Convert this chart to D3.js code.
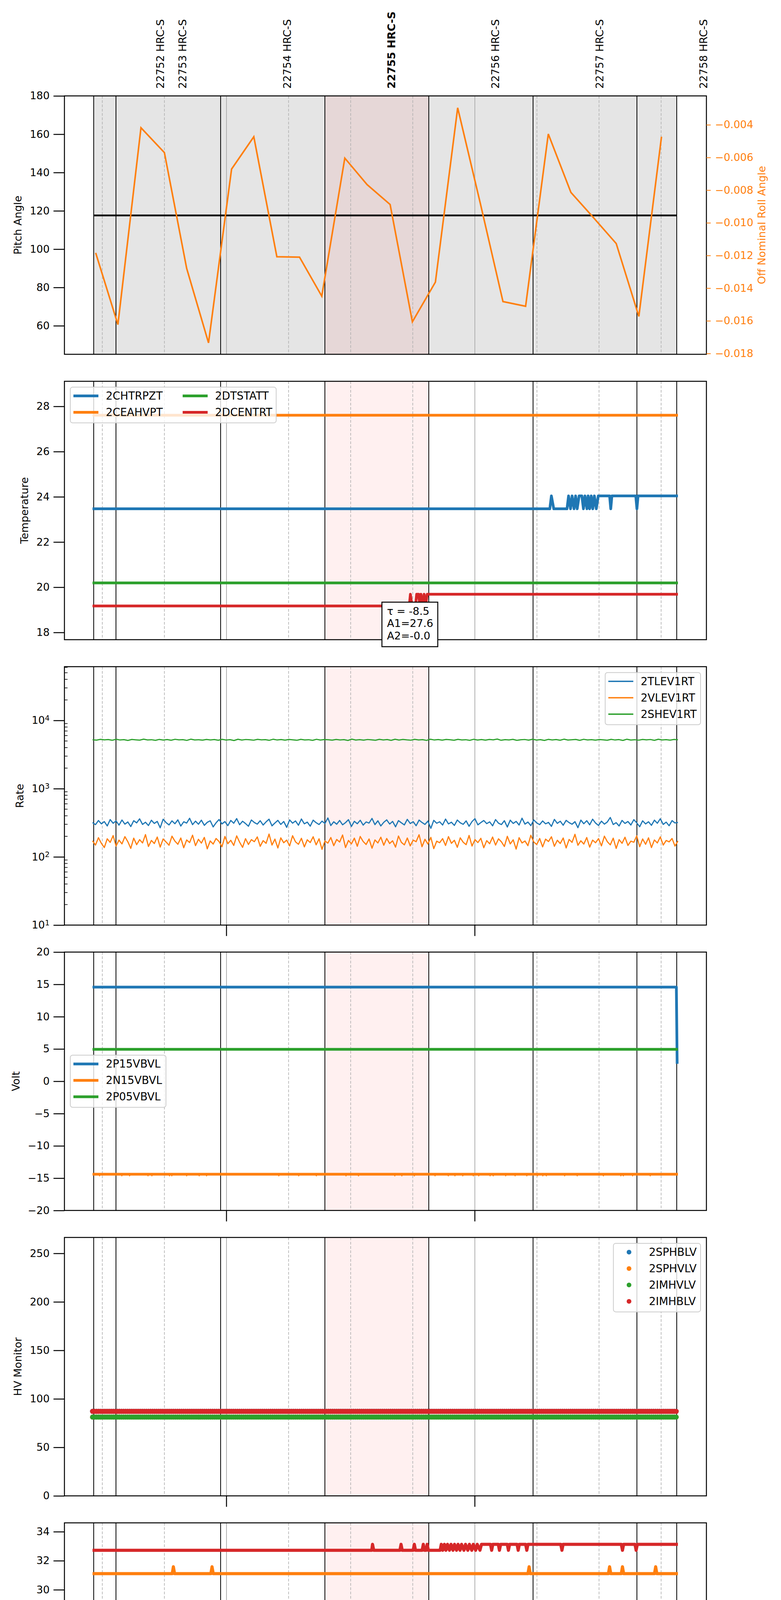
<!DOCTYPE html>
<html>
<head>
<meta charset="utf-8">
<script src="https://cdn.jsdelivr.net/npm/d3@7"></script>
<style>
  body { margin: 0; background: #fff; }
  svg { display: block; }
  text { font-family: "DejaVu Sans", sans-serif; }
</style>
</head>
<body>
<script>
// all times are minutes after 10:00 UTC, 2020-11-02 (day 307)

// observations
const obsIds = ["22752", "22753", "22754", "22755", "22756", "22757", "22758"];
const obsInstr = "HRC-S";
const obsStart = [27.92, 33.30, 58.58, 83.77, 108.87, 134.06, 159.15];
const obsEnd = 168.77;
const currentObs = "22755";

// panel 1: pitch (left) and off nominal roll (right)
const pitchLine = [[27.92, 117.6], [168.77, 117.6]];
const rollTimes = [28.40, 33.77, 39.34, 45.00, 50.38, 55.66, 61.23, 66.60, 72.17, 77.64, 83.02, 88.58, 93.96,
  99.53, 104.91, 110.47, 115.85, 121.32, 126.79, 132.26, 137.74, 143.21, 148.68, 154.15, 159.62, 165.09];
const rollVals = [-0.01184, -0.01623, -0.00418, -0.00570, -0.01279, -0.01735, -0.00671, -0.00473, -0.01208,
  -0.01210, -0.01449, -0.00604, -0.00766, -0.00888, -0.01606, -0.01363, -0.00296, -0.00881, -0.01482,
  -0.01511, -0.00456, -0.00814, -0.00969, -0.01127, -0.01573, -0.00473];

// panel 2: temperature
const tempNames = ["2CHTRPZT", "2CEAHVPT", "2DTSTATT", "2DCENTRT"];
const chtrpzt = [[27.64, 23.47], [138.11, 23.47], [138.49, 24.04], [139.06, 23.47], [142.26, 23.47], [142.64, 24.04],
  [143.11, 23.47], [143.49, 24.04], [143.96, 23.47], [144.34, 24.04], [144.72, 23.47], [145.19, 24.04], [145.85, 24.04],
  [146.23, 23.47], [146.60, 24.04], [147.08, 23.47], [147.36, 24.04], [147.74, 23.47], [148.11, 24.04], [148.49, 23.47],
  [148.87, 24.04], [149.34, 23.47], [149.81, 24.04], [152.55, 24.04], [152.83, 23.47], [153.11, 24.04], [158.87, 24.04],
  [159.15, 23.47], [159.43, 24.04], [169.06, 24.04]];
const ceahvpt = [[27.64, 27.61], [169.06, 27.61]];
const dtstatt = [[27.64, 20.19], [169.06, 20.19]];
const dcentrt = [[27.64, 19.17], [104.15, 19.17], [104.43, 19.69], [104.81, 19.17], [105.66, 19.17], [105.94, 19.69],
  [106.42, 19.69], [106.70, 19.17], [106.98, 19.69], [107.45, 19.17], [107.74, 19.69], [108.11, 19.17], [108.49, 19.69],
  [169.06, 19.69]];
const fitText = ["\u03c4 = -8.5", "A1=27.6", "A2=-0.0"];
const fitBoxAt = [97.55, 19.34];

// panel 3: rates (evenly sampled between rateStart and rateEnd)
const rateNames = ["2TLEV1RT", "2VLEV1RT", "2SHEV1RT"];
const rateStart = 27.64, rateEnd = 169.06;
const tlev1rt = [318, 297, 341, 305, 329, 284, 352, 311, 336, 292, 347, 302, 325, 278, 339, 315, 361, 299, 322, 288,
  344, 309, 331, 267, 356, 318, 294, 337, 306, 349, 283, 327, 313, 368, 297, 334, 301, 345, 290, 321,
  338, 275, 316, 353, 304, 329, 287, 342, 311, 364, 296, 333, 308, 281, 347, 319, 302, 339, 293, 326,
  357, 285, 314, 343, 299, 330, 271, 348, 312, 336, 291, 359, 305, 323, 282, 345, 317, 298, 334, 309,
  372, 288, 327, 301, 342, 295, 318, 351, 279, 332, 306, 344, 292, 325, 313, 366, 297, 338, 284, 321,
  349, 303, 331, 276, 340, 315, 294, 355, 308, 328, 286, 346, 319, 299, 335, 262, 343, 311, 327, 293,
  358, 304, 322, 289, 347, 316, 300, 337, 281, 329, 363, 295, 318, 341, 307, 326, 285, 352, 312, 298,
  339, 274, 345, 309, 331, 293, 369, 302, 324, 287, 348, 314, 297, 336, 305, 320, 280, 354, 310, 333,
  291, 343, 318, 301, 328, 268, 346, 306, 339, 295, 357, 313, 289, 334, 302, 325, 378, 298, 317, 284,
  342, 309, 330, 293, 351, 315, 277, 338, 304, 327, 290, 345, 311, 362, 299, 323, 286, 340, 314, 319];
const vlev1rt = [172, 149, 191, 158, 137, 184, 163, 205, 144, 176, 155, 198, 167, 133, 188, 151, 179, 160, 212, 142,
  174, 157, 195, 139, 183, 165, 148, 201, 170, 153, 189, 136, 177, 162, 208, 146, 181, 159, 193, 131,
  171, 154, 186, 168, 141, 199, 156, 175, 147, 203, 164, 138, 185, 152, 179, 167, 196, 143, 173, 158,
  216, 149, 182, 135, 190, 161, 176, 145, 204, 166, 153, 187, 140, 178, 162, 197, 150, 184, 129, 171,
  159, 192, 146, 180, 165, 209, 137, 174, 155, 188, 143, 199, 168, 152, 183, 134, 177, 160, 194, 148,
  186, 157, 172, 139, 202, 163, 150, 189, 145, 176, 167, 211, 141, 181, 154, 193, 132, 170, 161, 185,
  147, 198, 158, 175, 138, 190, 164, 151, 206, 144, 179, 162, 187, 136, 173, 156, 195, 149, 184, 166,
  142, 200, 155, 178, 130, 191, 160, 171, 146, 207, 165, 152, 186, 140, 182, 168, 197, 143, 175, 157,
  189, 135, 180, 163, 214, 148, 172, 154, 192, 139, 176, 161, 185, 145, 201, 167, 150, 188, 133, 179,
  158, 194, 147, 170, 164, 203, 141, 183, 153, 190, 137, 177, 160, 196, 149, 174, 166, 186, 144, 171];
const shev1rt = [5210, 5150, 5280, 5190, 5240, 5120, 5300, 5170, 5230, 5090, 5260, 5200, 5140, 5320, 5180, 5220,
  5110, 5270, 5160, 5250, 5130, 5290, 5195, 5235, 5100, 5310, 5175, 5215, 5145, 5265, 5185, 5245, 5125, 5285,
  5165, 5225, 5080, 5295, 5155, 5255, 5205, 5135, 5275, 5190, 5230, 5115, 5305, 5170, 5240, 5150, 5260, 5195,
  5120, 5280, 5180, 5220, 5105, 5290, 5160, 5250, 5210, 5140, 5270, 5185, 5235, 5095, 5315, 5165, 5225, 5145,
  5255, 5200, 5130, 5285, 5175, 5245, 5110, 5300, 5155, 5265, 5190, 5135, 5275, 5180, 5230, 5100, 5295, 5170,
  5240, 5150, 5260, 5205, 5125, 5280, 5185, 5220, 5115, 5290, 5160, 5250, 5145, 5270, 5195, 5330, 5120, 5235,
  5175, 5285, 5105, 5215, 5255, 5140, 5300, 5165, 5225, 5090, 5275, 5185, 5245, 5130, 5310, 5155, 5210, 5265,
  5110, 5290, 5180, 5230, 5150, 5250, 5200, 5125, 5280, 5170, 5240, 5095, 5305, 5160, 5220, 5135, 5270, 5190,
  5255, 5115, 5295, 5175, 5235, 5145, 5265, 5205];

// panel 4: volts
const voltNames = ["2P15VBVL", "2N15VBVL", "2P05VBVL"];
const p15vbvl = [[27.64, 14.57], [168.68, 14.57], [168.87, 2.7]];
const n15vbvl = [[27.64, -14.39], [169.06, -14.39]];
const p05vbvl = [[27.64, 4.94], [169.06, 4.94]];
const n15DipTimes = [29.34, 34.72, 36.60, 41.04, 41.98, 46.23, 46.79, 50.38, 53.40, 55.19, 72.64, 77.45, 81.70,
  88.87, 91.89, 100.66, 102.36, 105.38, 110.38, 113.58, 115.19, 117.08, 119.62, 120.94, 123.68, 124.43, 127.45,
  129.72, 132.55, 135.09, 136.42, 137.26, 141.70, 144.72, 151.04, 155.28, 155.85, 158.11, 162.36];
const n15DipLow = -14.63;

// panel 5: HV monitor (scatter)
const hvNames = ["2SPHBLV", "2SPHVLV", "2IMHVLV", "2IMHBLV"];
const hvLevels = [87.1, 81.2, 81.2, 87.1];
const hvStart = 27.64, hvEnd = 169.06, hvStep = 0.5;

// panel 6: detector temperature
const detNames = ["2SPINATM", "2SPHVATM", "2IMINATM", "2IMHVATM"];
const spinatm = [[27.64, 18.28], [148.21, 18.28], [148.49, 19.0], [148.77, 18.28], [169.06, 18.28]];
const sphvatm = [[27.64, 31.11], [46.89, 31.11], [47.17, 31.58], [47.45, 31.11], [56.23, 31.11], [56.51, 31.58],
  [56.79, 31.11], [132.83, 31.11], [133.11, 31.58], [133.39, 31.11], [152.27, 31.11], [152.55, 31.58], [152.83, 31.11],
  [155.38, 31.11], [155.66, 31.58], [155.94, 31.11], [163.40, 31.11], [163.68, 31.58], [163.96, 31.11], [169.06, 31.11]];
const iminatm = [[27.64, 20.29], [141.14, 20.29], [141.42, 19.56], [141.70, 20.29], [169.06, 20.29]];
const imhvatm = [[27.64, 32.72], [95.09, 32.72], [95.28, 33.13], [95.57, 32.72], [101.89, 32.72], [102.17, 33.13],
  [102.45, 32.72], [105.09, 32.72], [105.38, 33.13], [105.66, 32.72], [107.26, 32.72], [107.55, 33.13], [107.83, 32.72],
  [108.21, 32.72], [108.49, 33.13], [108.77, 32.72], [111.60, 32.72], [111.89, 33.13], [112.26, 32.72], [112.64, 33.13],
  [113.02, 32.72], [113.40, 33.13], [113.87, 32.72], [114.25, 33.13], [114.72, 32.72], [115.09, 33.13], [115.57, 32.72],
  [115.94, 33.13], [116.42, 32.72], [116.79, 33.13], [117.36, 32.72], [117.74, 33.13], [118.30, 32.72], [118.68, 33.13],
  [119.25, 32.72], [119.62, 33.13], [120.19, 32.72], [120.57, 33.13], [121.23, 32.72], [121.60, 33.13], [123.77, 33.13],
  [124.06, 32.72], [124.34, 33.13], [125.66, 33.13], [125.94, 32.72], [126.23, 33.13], [127.83, 33.13], [128.11, 32.72],
  [128.40, 33.13], [130.19, 33.13], [130.47, 32.72], [130.75, 33.13], [132.26, 33.13], [132.55, 32.72], [132.83, 33.13],
  [140.75, 33.13], [141.04, 32.72], [141.32, 33.13], [155.38, 33.13], [155.66, 32.72], [155.94, 33.13], [158.68, 33.13],
  [158.96, 32.72], [159.25, 33.13], [169.06, 33.13]];

// panel 7: FEA temperature
const feaNames = ["2FHTRMZT", "2FRADPYT", "2FEPRATM", "2FE00ATM"];
const fhtrmzt = [[27.64, 22.91], [169.06, 22.91]];
const fradpyt = [[27.64, 18.65], [77.64, 18.65], [77.92, 18.17], [78.20, 18.65], [81.51, 18.65], [81.79, 18.17],
  [82.07, 18.65], [85.66, 18.65], [85.85, 18.17], [86.13, 18.65], [86.42, 18.17], [86.70, 18.65], [87.08, 18.17],
  [91.51, 18.17], [91.79, 18.65], [92.07, 18.17], [169.06, 18.17]];
const fepratm = [[27.64, 24.63], [169.06, 24.63]];
const fe00atm = [[27.64, 22.97], [53.11, 22.97], [53.40, 22.62], [53.68, 22.97], [57.36, 22.97], [57.64, 22.67],
  [58.11, 22.97], [58.58, 22.67], [59.06, 22.97], [59.53, 22.67], [60.00, 22.97], [60.47, 22.67], [60.94, 22.97],
  [61.42, 22.67], [61.89, 22.97], [62.36, 22.67], [62.83, 22.97], [63.30, 22.67], [63.77, 22.97], [64.34, 22.67],
  [64.91, 22.97], [65.47, 22.67], [66.04, 22.97], [66.60, 22.67], [67.17, 22.97], [67.74, 22.67], [68.30, 22.97],
  [68.87, 22.67], [69.43, 22.97], [70.00, 22.67], [70.57, 22.97], [71.13, 22.67], [71.70, 22.97], [72.26, 22.67],
  [72.83, 22.97], [73.40, 22.67], [73.96, 22.97], [74.53, 22.67],
  [76.80, 22.67], [77.08, 23.66], [77.36, 22.67], [80.10, 22.67], [80.38, 22.29], [80.66, 22.67],
  [85.47, 22.67], [85.75, 23.35], [86.03, 22.67], [92.64, 22.67], [92.92, 23.0], [93.20, 22.67],
  [101.98, 22.67], [102.26, 22.29], [102.54, 22.67], [102.74, 22.67], [103.02, 23.0], [103.30, 22.67],
  [108.68, 22.67], [108.96, 23.0], [109.24, 22.67], [109.91, 22.67], [110.19, 22.29], [110.47, 22.67],
  [115.10, 22.67], [115.38, 23.66], [115.66, 22.67], [115.94, 23.3], [116.22, 22.67],
  [120.29, 22.67], [120.57, 21.98], [120.85, 22.67], [128.49, 22.67], [128.77, 23.66], [129.05, 22.67],
  [133.02, 22.67], [133.30, 21.67], [133.58, 22.67], [137.17, 22.67], [137.45, 23.35], [137.73, 22.67],
  [138.49, 22.67], [138.77, 23.0], [139.05, 22.67], [143.12, 22.67], [143.40, 21.67], [143.68, 22.67],
  [166.61, 22.67], [166.89, 23.0], [167.17, 22.67], [169.06, 22.67]];

const xTitle = "2020-11-02 (307)";
const colors = ["#1f77b4", "#ff7f0e", "#2ca02c", "#d62728"];

// ---------- layout ----------
const left = 165, right = 1809, top0 = 245.5, step = 730.6, ph = 661.5;
const t0 = Date.UTC(2020, 10, 2, 10, 0, 0);
const toDate = m => new Date(t0 + m * 60000);
const x = d3.scaleUtc().domain([toDate(20.85), toDate(175.94)]).range([left, right]);

// the figure is split in three stacked svgs (same global coordinates via viewBox)
const bands = [[0, 1672], [1672, 3864], [3864, 5400]];
const svgs = bands.map(([a, b]) => {
  const s = d3.select("body").append("svg").attr("width", 2000).attr("height", b - a)
    .attr("viewBox", `0 ${a} 2000 ${b - a}`);
  s.append("rect").attr("x", 0).attr("y", a).attr("width", 2000).attr("height", b - a).attr("fill", "#fff");
  return s;
});
const svgFor = k => svgs[k < 2 ? 0 : k < 5 ? 1 : 2];

const quarters = x.ticks(d3.utcMinute.every(15)).filter(d => d.getUTCMinutes() !== 0);
const hours = x.ticks(d3.utcHour.every(1));

function panel(k, y, grayBg) {
  const top = top0 + k * step, bottom = top + ph;
  y.range([bottom, top]);
  const g = svgFor(k).append("g");
  const p = { top, bottom, y, bg: g.append("g"), grid: g.append("g"), data: g.append("g"), frame: g.append("g") };
  if (grayBg) {
    p.bg.append("rect").attr("x", x(toDate(obsStart[0]))).attr("y", top)
      .attr("width", x(toDate(obsEnd)) - x(toDate(obsStart[0]))).attr("height", ph).attr("fill", "#e5e5e5");
  }
  const ci = obsIds.indexOf(currentObs);
  const cEnd = ci + 1 < obsStart.length ? obsStart[ci + 1] : obsEnd;
  p.bg.append("rect").attr("x", x(toDate(obsStart[ci]))).attr("y", top)
    .attr("width", x(toDate(cEnd)) - x(toDate(obsStart[ci]))).attr("height", ph)
    .attr("fill", "#ff0000").attr("fill-opacity", 0.06);
  p.grid.selectAll(".q").data(quarters).join("line")
    .attr("x1", d => x(d)).attr("x2", d => x(d)).attr("y1", top).attr("y2", bottom)
    .attr("stroke", "#b0b0b0").attr("stroke-width", 1.6).attr("stroke-dasharray", "7,4");
  p.grid.selectAll(".h").data(hours).join("line")
    .attr("x1", d => x(d)).attr("x2", d => x(d)).attr("y1", top).attr("y2", bottom)
    .attr("stroke", "#b0b0b0").attr("stroke-width", 2);
  p.grid.selectAll(".o").data(obsStart.concat([obsEnd])).join("line")
    .attr("x1", d => x(toDate(d))).attr("x2", d => x(toDate(d))).attr("y1", top).attr("y2", bottom)
    .attr("stroke", "#000").attr("stroke-width", 2);
  p.frame.append("rect").attr("x", left).attr("y", top).attr("width", right - left).attr("height", ph)
    .attr("fill", "none").attr("stroke", "#000").attr("stroke-width", 2.5);
  return p;
}

function leftAxis(p, vals, fmt) {
  const ax = p.frame.append("g").attr("transform", `translate(${left},0)`)
    .call(d3.axisLeft(p.y).tickValues(vals).tickFormat(fmt).tickSize(28).tickPadding(10).tickSizeOuter(0));
  ax.select(".domain").remove();
  ax.attr("font-family", "DejaVu Sans, sans-serif").attr("font-size", 26.5);
  ax.selectAll(".tick line").attr("stroke-width", 2.5);
  return ax;
}

function yLabel(p, ax, label) {
  const bb = ax.node().getBBox();
  const bx = left + bb.x - 21;
  p.frame.append("text").attr("transform", `translate(${bx},${(p.top + p.bottom) / 2}) rotate(-90)`)
    .attr("text-anchor", "middle").attr("font-size", 27).text(label);
}

function hourTicks(p) {
  p.frame.selectAll(".ht").data(hours).join("line")
    .attr("x1", d => x(d)).attr("x2", d => x(d)).attr("y1", p.bottom).attr("y2", p.bottom + 28)
    .attr("stroke", "#000").attr("stroke-width", 2.5);
}

function drawLine(p, pts, color, w) {
  p.data.append("path").datum(pts)
    .attr("d", d3.line().x(d => x(toDate(d[0]))).y(d => p.y(d[1])))
    .attr("fill", "none").attr("stroke", color).attr("stroke-width", w).attr("stroke-linejoin", "round");
}

function legend(p, names, o) {
  const rowH = 42, padT = 22.5, padB = 27, fs = 27.5;
  const ncol = o.ncol || 1, nrow = Math.ceil(names.length / ncol);
  const lg = p.frame.append("g");
  const box = lg.append("rect");
  const texts = names.map(n => lg.append("text").attr("font-size", fs).attr("dy", "0.35em").text(n));
  const widths = texts.map(t => t.node().getComputedTextLength());
  const colX = [];
  let cx = 0;
  for (let c = 0; c < ncol; c++) {
    colX.push(cx);
    const w = d3.max(widths.filter((_, i) => Math.floor(i / nrow) === c));
    cx += 91 + w + (c < ncol - 1 ? 43 : 10);
  }
  const boxW = cx, boxH = padT + (nrow - 1) * rowH + padB;
  const bx = o.h === "left" ? left + 15 : right - 15 - boxW;
  const by = o.v === "top" ? p.top + 15 : (p.top + p.bottom) / 2 - boxH / 2;
  box.attr("x", bx).attr("y", by).attr("width", boxW).attr("height", boxH).attr("rx", 6)
    .attr("fill", "#fff").attr("fill-opacity", 0.8).attr("stroke", "#cccccc").attr("stroke-width", 2);
  names.forEach((n, i) => {
    const c = Math.floor(i / nrow), r = i % nrow;
    const hx = bx + colX[c], hy = by + padT + r * rowH;
    if (o.dots) {
      lg.append("circle").attr("cx", hx + 40).attr("cy", hy).attr("r", 6).attr("fill", colors[i]);
    } else {
      lg.append("line").attr("x1", hx + 8).attr("x2", hx + 72).attr("y1", hy).attr("y2", hy)
        .attr("stroke", colors[i]).attr("stroke-width", o.lw);
    }
    texts[i].attr("x", hx + 91).attr("y", hy).raise();
  });
}

// ---------- panel 1 ----------
const y1 = d3.scaleLinear().domain([45.1, 180]);
const p1 = panel(0, y1, true);
const yR = d3.scaleLinear().domain([-0.01805, -0.00223]).range([p1.bottom, p1.top]);
drawLine(p1, pitchLine, "#000", 4.5);
p1.data.append("path").datum(rollTimes.map((t, i) => [t, rollVals[i]]))
  .attr("d", d3.line().x(d => x(toDate(d[0]))).y(d => yR(d[1])))
  .attr("fill", "none").attr("stroke", colors[1]).attr("stroke-width", 4);
const ax1 = leftAxis(p1, d3.range(60, 181, 20), d3.format("d"));
yLabel(p1, ax1, "Pitch Angle");
const axR = p1.frame.append("g").attr("transform", `translate(${right},0)`)
  .call(d3.axisRight(yR).tickValues(d3.range(-0.018, -0.0035, 0.002)).tickFormat(d3.format(".3f"))
    .tickSize(11).tickPadding(11).tickSizeOuter(0));
axR.select(".domain").remove();
axR.attr("font-family", "DejaVu Sans, sans-serif").attr("font-size", 26.5).attr("color", colors[1]);
axR.selectAll(".tick line").attr("stroke-width", 2);
const rbb = axR.node().getBBox();
p1.frame.append("text")
  .attr("transform", `translate(${right + rbb.x + rbb.width + 31},${(p1.top + p1.bottom) / 2}) rotate(-90)`)
  .attr("text-anchor", "middle").attr("font-size", 27).attr("fill", colors[1]).text("Off Nominal Roll Angle");
// observation labels on top
p1.frame.selectAll(".obs").data(obsIds).join("text")
  .attr("transform", (d, i) => `translate(${x(toDate(obsStart[i] + 16.1))},227) rotate(-90)`)
  .attr("dy", "0.35em").attr("font-size", 27)
  .attr("font-weight", d => d === currentObs ? "bold" : "normal")
  .text(d => `${d} ${obsInstr}`);

// ---------- panel 2 ----------
const y2 = d3.scaleLinear().domain([17.68, 29.11]);
const p2 = panel(1, y2, false);
[chtrpzt, ceahvpt, dtstatt, dcentrt].forEach((s, i) => drawLine(p2, s, colors[i], 7));
const ax2 = leftAxis(p2, d3.range(18, 29, 2), d3.format("d"));
yLabel(p2, ax2, "Temperature");
legend(p2, tempNames, { h: "left", v: "top", ncol: 2, lw: 7 });
{
  const fx = x(toDate(fitBoxAt[0])), fy = y2(fitBoxAt[1]);
  const fg = p2.frame.append("g");
  fg.append("rect").attr("x", fx).attr("y", fy).attr("width", 143).attr("height", 114)
    .attr("fill", "#fff").attr("stroke", "#000").attr("stroke-width", 2.5);
  fg.selectAll("text").data(fitText).join("text")
    .attr("x", fx + 13).attr("y", (d, i) => fy + 32 + i * 31.5).attr("font-size", 27).text(d => d);
}

// ---------- panel 3 ----------
const y3 = d3.scaleLog().domain([10, 61400]);
const p3 = panel(2, y3, false);
[tlev1rt, vlev1rt, shev1rt].forEach((vals, i) => {
  const dt = (rateEnd - rateStart) / (vals.length - 1);
  drawLine(p3, vals.map((v, j) => [rateStart + j * dt, v]), colors[i], 3);
});
const ax3 = leftAxis(p3, [10, 100, 1000, 10000], () => "");
ax3.selectAll(".tick text").each(function (d) {
  const t = d3.select(this);
  t.text("10");
  t.append("tspan").attr("dy", "-0.45em").attr("font-size", 19).text(Math.round(Math.log10(d)));
});
const minors = [];
[10, 100, 1000, 10000].forEach(dec => d3.range(2, 10).forEach(j => { if (j * dec < 61400) minors.push(j * dec); }));
p3.frame.selectAll(".mn").data(minors).join("line")
  .attr("x1", left).attr("x2", left + 8).attr("y1", d => y3(d)).attr("y2", d => y3(d))
  .attr("stroke", "#000").attr("stroke-width", 1.6);
yLabel(p3, ax3, "Rate");
legend(p3, rateNames, { h: "right", v: "top", lw: 3.5 });
hourTicks(p3);

// ---------- panel 4 ----------
const y4 = d3.scaleLinear().domain([-20, 20]);
const p4 = panel(3, y4, false);
drawLine(p4, p15vbvl, colors[0], 7);
drawLine(p4, n15vbvl, colors[1], 7);
p4.data.selectAll(".dip").data(n15DipTimes).join("line")
  .attr("x1", d => x(toDate(d))).attr("x2", d => x(toDate(d)))
  .attr("y1", y4(n15vbvl[0][1])).attr("y2", y4(n15DipLow))
  .attr("stroke", colors[1]).attr("stroke-width", 3).attr("stroke-linecap", "round");
drawLine(p4, p05vbvl, colors[2], 7);
const ax4 = leftAxis(p4, d3.range(-20, 21, 5), d3.format("d"));
yLabel(p4, ax4, "Volt");
legend(p4, voltNames, { h: "left", v: "center", lw: 7 });
hourTicks(p4);

// ---------- panel 5 ----------
const y5 = d3.scaleLinear().domain([0, 266.4]);
const p5 = panel(4, y5, false);
const hvTimes = d3.range(hvStart, hvEnd + 0.001, hvStep);
hvLevels.forEach((lv, i) => {
  p5.data.append("g").selectAll("circle").data(hvTimes).join("circle")
    .attr("cx", d => x(toDate(d))).attr("cy", y5(lv)).attr("r", 6.5).attr("fill", colors[i]);
});
const ax5 = leftAxis(p5, d3.range(0, 251, 50), d3.format("d"));
yLabel(p5, ax5, "HV Monitor");
legend(p5, hvNames, { h: "right", v: "top", dots: true });
hourTicks(p5);

// ---------- panel 6 ----------
const y6 = d3.scaleLinear().domain([16.8, 34.61]);
const p6 = panel(5, y6, false);
[spinatm, sphvatm, iminatm, imhvatm].forEach((s, i) => drawLine(p6, s, colors[i], 8));
const ax6 = leftAxis(p6, d3.range(18, 35, 2), d3.format("d"));
yLabel(p6, ax6, "Detector Temp");
legend(p6, detNames, { h: "right", v: "center", lw: 7 });
hourTicks(p6);

// ---------- panel 7 ----------
const y7 = d3.scaleLinear().domain([16.65, 26.11]);
const p7 = panel(6, y7, false);
[fhtrmzt, fradpyt, fepratm, fe00atm].forEach((s, i) => drawLine(p7, s, colors[i], 8));
const ax7 = leftAxis(p7, d3.range(18, 27, 2), d3.format("d"));
yLabel(p7, ax7, "FEA Temp");
legend(p7, feaNames, { h: "right", v: "center", lw: 7 });
hourTicks(p7);
p7.frame.selectAll(".ml").data(quarters).join("text")
  .attr("x", d => x(d)).attr("y", p7.bottom + 15).attr("dy", "0.35em").attr("text-anchor", "middle")
  .attr("font-size", 18).text(d => d3.utcFormat("%M")(d));
p7.frame.selectAll(".hl").data(hours).join("text")
  .attr("x", d => x(d)).attr("y", p7.bottom + 50).attr("dy", "0.35em").attr("text-anchor", "middle")
  .attr("font-size", 27).text(d => d.getUTCHours() + "h");
p7.frame.append("text").attr("x", (left + right) / 2).attr("y", p7.bottom + 88).attr("dy", "0.35em")
  .attr("text-anchor", "middle").attr("font-size", 33).text(xTitle);
</script>
</body>
</html>
